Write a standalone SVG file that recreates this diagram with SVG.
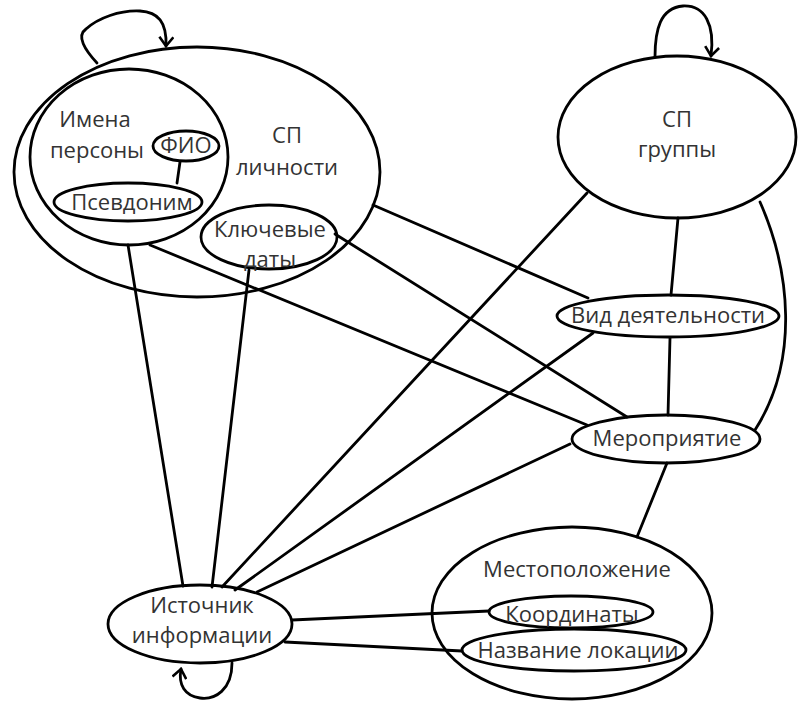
<svg xmlns="http://www.w3.org/2000/svg" width="798" height="702" viewBox="0 0 798 702">
<style>
.n{fill:none;stroke:#000;stroke-width:2.8}
.e{fill:none;stroke:#000;stroke-width:2.8;stroke-linecap:round}
text{font-family:"Open Sans","Liberation Sans",sans-serif;font-size:22px;fill:#333;text-anchor:middle}
</style>
<defs>
<marker id="ar" viewBox="-10 -8 12 16" markerWidth="12" markerHeight="16" refX="0" refY="0" orient="auto" markerUnits="userSpaceOnUse">
<path d="M-9,-7 L0,0 L-9,7" fill="none" stroke="#000" stroke-width="2.6" stroke-linejoin="miter"/>
</marker>
</defs>
<rect width="798" height="702" fill="#fff"/>
<g id="connectors">
<path class="e" d="M97,63 C85,50 76,36 86,29 C98,18 120,10 140,11 C158,12 167,22 166,46" marker-end="url(#ar)"/>
<path class="e" d="M655,57 C655,30 660,8 683,6 C705,5 715,25 711,56" marker-end="url(#ar)"/>
<path class="e" d="M232,663 C232,690 215,700 200,698 C185,696 178,685 181,669" marker-end="url(#ar)"/>
<line class="e" x1="180" y1="162" x2="177" y2="183"/>
<line class="e" x1="128" y1="245" x2="183" y2="586"/>
<line class="e" x1="150" y1="245" x2="587" y2="425"/>
<line class="e" x1="249" y1="270" x2="212" y2="587"/>
<line class="e" x1="335" y1="234" x2="627" y2="417"/>
<line class="e" x1="373" y1="205" x2="588" y2="298"/>
<line class="e" x1="587" y1="193" x2="222" y2="587"/>
<line class="e" x1="593" y1="333" x2="235" y2="590"/>
<line class="e" x1="570" y1="444" x2="257" y2="592"/>
<line class="e" x1="678" y1="218" x2="671" y2="295"/>
<line class="e" x1="670" y1="338" x2="668" y2="415"/>
<path class="e" d="M760,202 C790,270 800,360 755,430"/>
<line class="e" x1="667" y1="463" x2="637" y2="537"/>
<line class="e" x1="292" y1="620" x2="489" y2="611"/>
<line class="e" x1="285" y1="642" x2="462" y2="651"/>
</g>
<g id="sp-lichnosti">
<ellipse class="n" cx="197" cy="172" rx="183" ry="125"/>
<text x="287" y="143">СП</text>
<text x="287" y="175">личности</text>
</g>
<g id="imena-persony">
<ellipse class="n" cx="129" cy="157" rx="99" ry="88"/>
<text x="95" y="127">Имена</text>
<text x="97" y="158">персоны</text>
</g>
<g id="fio">
<ellipse class="n" cx="186" cy="146" rx="33" ry="15"/>
<text x="186" y="153">ФИО</text>
</g>
<g id="psevdonim">
<ellipse class="n" cx="128" cy="202" rx="74" ry="19"/>
<text x="132" y="210">Псевдоним</text>
</g>
<g id="klyuchevye-daty">
<ellipse class="n" cx="269" cy="237" rx="68" ry="32"/>
<text x="270" y="237">Ключевые</text>
<text x="270" y="267">даты</text>
</g>
<g id="sp-gruppy">
<ellipse class="n" cx="677" cy="137" rx="119" ry="81"/>
<text x="677" y="127">СП</text>
<text x="677" y="157">группы</text>
</g>
<g id="vid-deyatelnosti">
<ellipse class="n" cx="668" cy="316" rx="111" ry="21"/>
<text x="668" y="323">Вид деятельности</text>
</g>
<g id="meropriyatie">
<ellipse class="n" cx="666" cy="439" rx="94" ry="24"/>
<text x="667" y="446">Мероприятие</text>
</g>
<g id="mestopolozhenie">
<ellipse class="n" cx="572" cy="613" rx="140" ry="86"/>
<text x="577" y="577">Местоположение</text>
</g>
<g id="koordinaty">
<ellipse class="n" cx="571" cy="612" rx="82" ry="16"/>
<text x="572" y="622">Координаты</text>
</g>
<g id="nazvanie-lokatsii">
<ellipse class="n" cx="574" cy="650" rx="112" ry="21"/>
<text x="578" y="658">Название локации</text>
</g>
<g id="istochnik-informatsii">
<ellipse class="n" cx="200" cy="624" rx="92" ry="39"/>
<text x="202" y="613">Источник</text>
<text x="202" y="643">информации</text>
</g>
</svg>
